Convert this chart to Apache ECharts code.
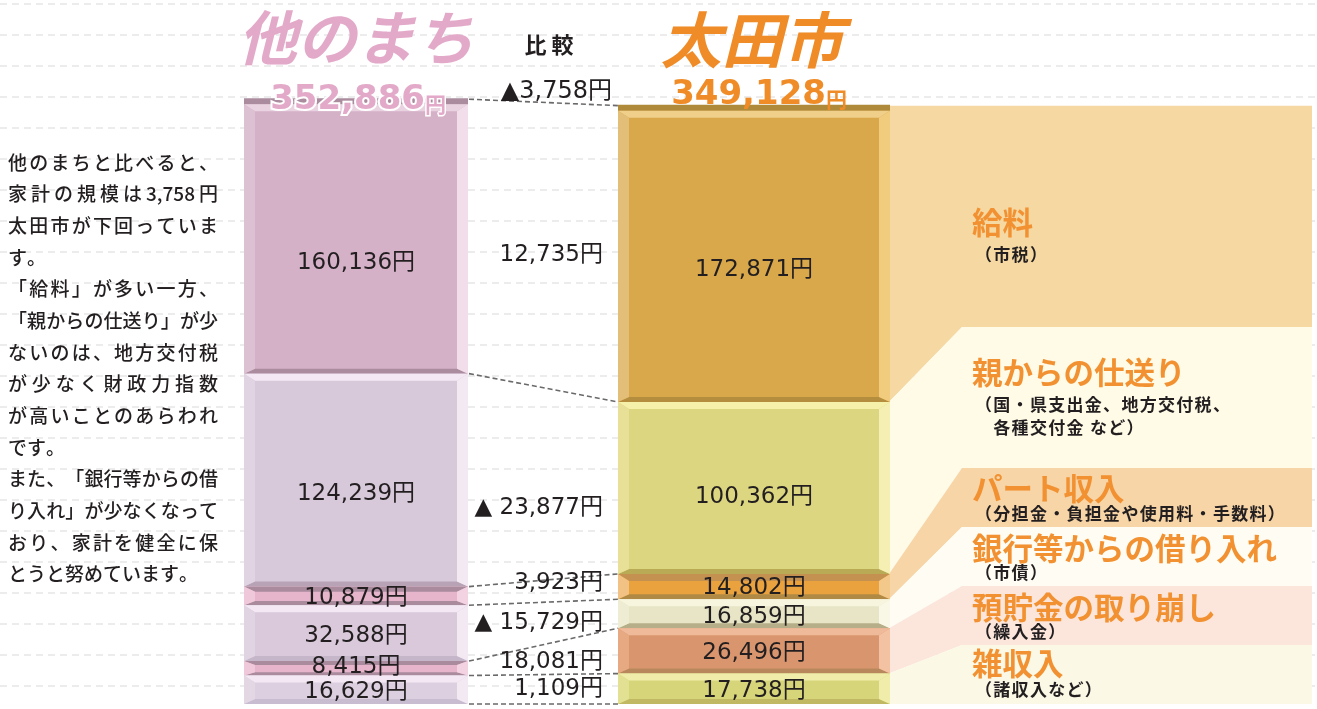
<!DOCTYPE html>
<html><head><meta charset="utf-8">
<script src="https://cdn.jsdelivr.net/npm/echarts@6/dist/echarts.min.js"></script>
<style>html,body{margin:0;padding:0;background:#fff}#c{width:1317px;height:709px}</style>
</head><body><div id="c"></div>
<script>
// ---------------- data ----------------
const categories = ['他のまち', '太田市'];
const itemNames = ['給料', '親からの仕送り', 'パート収入', '銀行等からの借り入れ', '預貯金の取り崩し', '雑収入'];
const itemNotes = [['（市税）'], ['（国・県支出金、地方交付税、', '　各種交付金 など）'], ['（分担金・負担金や使用料・手数料）'], ['（市債）'], ['（繰入金）'], ['（諸収入など）']];
const otherValues = [160136, 124239, 10879, 32588, 8415, 16629];
const otaValues = [172871, 100362, 14802, 16859, 26496, 17738];
const totals = [352886, 349128];
const diffValues = [12735, -23877, 3923, -15729, 18081, 1109];
const totalDiff = -3758;
const headTitle = '比 較';
const paragraph = [
  '他のまちと比べると、', '家計の規模は3,758円', '太田市が下回っていま', 'す。',
  '「給料」が多い一方、', '「親からの仕送り」が少', 'ないのは、地方交付税', 'が少なく財政力指数',
  'が高いことのあらわれ', 'です。', 'また、「銀行等からの借', 'り入れ」が少なくなって',
  'おり、家計を健全に保', 'とうと努めています。'
];
const paragraphEnds = [3, 9, 13];

// ---------------- layout / style ----------------
const BAR_W = [224, 272];
const PAL = [
  [
    {face:'#d5b1c7', top:'#e9d3e1', left:'#dcc1d3', right:'#f1deea', bottom:'#ab8c9e'},
    {face:'#d7c9d9', top:'#f3e8f3', left:'#e1d4e2', right:'#f3e9f3', bottom:'#b7a3b5'},
    {face:'#e6b5cb', top:'#a98b9d', left:'#efc9da', right:'#f3d3e2', bottom:'#a98b9d'},
    {face:'#d9c9db', top:'#f3e8f3', left:'#e1d4e2', right:'#f3e9f3', bottom:'#c6b6c9'},
    {face:'#e6b5cb', top:'#a98b9d', left:'#efc9da', right:'#f3d3e2', bottom:'#a98b9d'},
    {face:'#dcd0e0', top:'#f3e8f3', left:'#e3d7e4', right:'#f3e9f3', bottom:'#c8bdd0'}
  ],
  [
    {face:'#d9a84a', top:'#efcf8a', left:'#e2be79', right:'#f1cb7e', bottom:'#b48d3e'},
    {face:'#ddd681', top:'#f5f0aa', left:'#e8e096', right:'#f5efb3', bottom:'#b9aa55'},
    {face:'#e9a23e', top:'#c49150', left:'#f1c283', right:'#f2c98a', bottom:'#b08a44'},
    {face:'#e7e5c6', top:'#f7f5de', left:'#eeecd2', right:'#f9f7e6', bottom:'#b6ae88'},
    {face:'#d9966e', top:'#efba9a', left:'#e6a981', right:'#f2c2a3', bottom:'#b9875c'},
    {face:'#d7d57a', top:'#efeda9', left:'#e2e092', right:'#efeda9', bottom:'#c0b862'}
  ]
];
const STRIP = ['#ab8c9e', '#ae8a3a'];
const BAND_COL = ['#f6d8a2', '#fffbe7', '#f7d5a6', '#fffdf3', '#fce6dc', '#fbf8e5'];
const BAND_Y = [[115,327],[327,468],[468,527],[527,586],[586,645],[645,704]];
const BAND_X0 = 962, BAND_X1 = 1312;
const LABEL_DY = [[27,14,2,3,-1,2],[16,9,1,3,2,2]];
const DIFF_DY = [10,24,-8,0,2,0];
const NAME_Y = [222, 372, 488, 548, 607, 663];
const NOTE_Y = [[255],[405,428],[514],[573],[632],[690]];
const NUM_FONT = '"DejaVu Sans","Noto Sans CJK JP",sans-serif';
const JP_FONT = '"Noto Sans CJK JP",sans-serif';
const INK = '#231f20';
const PINK = '#e3a9c9';
const ORANGE = '#f08c28';

const fmt = v => Math.abs(v).toLocaleString('en-US');
const valuesBy = [otherValues, otaValues];
function lower(vals, k) { let s = 0; for (let i = k + 1; i < vals.length; i++) s += vals[i]; return s; }

// ---------------- series data ----------------
const segData = [];
valuesBy.forEach((vals, c) => vals.forEach((v, k) => {
  const s = lower(vals, k); segData.push([c, s, s + v, k]);
}));
const linkData = [];
for (let k = 0; k <= otherValues.length; k++) {
  const vl = k === 0 ? totals[0] : lower(otherValues, k - 1);
  const vr = k === 0 ? totals[1] : lower(otaValues, k - 1);
  linkData.push([0, vl, vr, k]);
}
const bandData = otaValues.map((v, k) => { const s = lower(otaValues, k); return [1, s, s + v, k]; });
const diffData = diffValues.map((d, k) => [0, lower(otherValues, k), lower(otaValues, k), k]);

function bevelItem(params, api) {
  const c = api.value(0), s = api.value(1), e = api.value(2), k = api.value(3);
  const pb = api.coord([c, s]), pt = api.coord([c, e]);
  const w = BAR_W[c], x0 = pb[0] - w / 2, x1 = pb[0] + w / 2;
  const yb = pb[1]; let yt = pt[1];
  const P = PAL[c][k];
  const ch = [{type:'rect', shape:{x:x0, y:yt, width:w, height:yb - yt}, style:{fill:P.face}}];
  if (k === 0) { ch.push({type:'rect', shape:{x:x0, y:yt - 1, width:w, height:6}, style:{fill:STRIP[c]}}); yt += 5; }
  const h = yb - yt;
  const bx = 11, bt = Math.min(7, h * 0.28), bb = Math.min(5, h * 0.22);
  ch.push(
    {type:'polygon', shape:{points:[[x0,yt],[x1,yt],[x1-bx,yt+bt],[x0+bx,yt+bt]]}, style:{fill:P.top}},
    {type:'polygon', shape:{points:[[x0,yb],[x1,yb],[x1-bx,yb-bb],[x0+bx,yb-bb]]}, style:{fill:P.bottom}},
    {type:'polygon', shape:{points:[[x0,yt],[x0+bx,yt+bt],[x0+bx,yb-bb],[x0,yb]]}, style:{fill:P.left}},
    {type:'polygon', shape:{points:[[x1,yt],[x1-bx,yt+bt],[x1-bx,yb-bb],[x1,yb]]}, style:{fill:P.right}}
  );
  return {type:'group', children:ch};
}
function segLabelItem(params, api) {
  const c = api.value(0), s = api.value(1), e = api.value(2), k = api.value(3);
  const pb = api.coord([c, s]), pt = api.coord([c, e]);
  return {type:'text', z2:100, style:{x:pb[0], y:(pb[1] + pt[1]) / 2 + LABEL_DY[c][k], text:fmt(valuesBy[c][k]) + '円',
    align:'center', verticalAlign:'middle', fill:INK, fontSize:23, fontFamily:NUM_FONT}};
}
function linkItem(params, api) {
  const vl = api.value(1), vr = api.value(2);
  const a = api.coord([0, vl]), b = api.coord([1, vr]);
  return {type:'line', shape:{x1:a[0] + BAR_W[0] / 2 + 1, y1:a[1], x2:b[0] - BAR_W[1] / 2, y2:b[1]},
    style:{stroke:'#6a6a6a', lineWidth:1.6, lineDash:[5, 3]}};
}
function bandItem(params, api) {
  const s = api.value(1), e = api.value(2), k = api.value(3);
  const pb = api.coord([1, s]), pt = api.coord([1, e]);
  const xr = pb[0] + BAR_W[1] / 2 - 1;
  const topY = k === 0 ? pt[1] : BAND_Y[k][0];
  return {type:'polygon', shape:{points:[[xr, pt[1]],[BAND_X0, topY],[BAND_X1, topY],[BAND_X1, BAND_Y[k][1]],[BAND_X0, BAND_Y[k][1]],[xr, pb[1]]]},
    style:{fill:BAND_COL[k]}};
}
function diffItem(params, api) {
  const k = api.value(3);
  const yl = (api.coord([0, lower(otherValues, k)])[1] + api.coord([0, lower(otherValues, k) + otherValues[k]])[1]) / 2;
  const yr = (api.coord([1, lower(otaValues, k)])[1] + api.coord([1, lower(otaValues, k) + otaValues[k]])[1]) / 2;
  const d = diffValues[k];
  return {type:'text', z2:100, style:{x:603, y:(yl + yr) / 2 + DIFF_DY[k], text:(d < 0 ? '▲ ' : '') + fmt(d) + '円',
    align:'right', verticalAlign:'middle', fill:INK, fontSize:23, fontFamily:NUM_FONT}};
}

// ---------------- graphic (decorations & text) ----------------
const graphics = [];
for (let y = 4; y <= 690; y += 31) {
  graphics.push({type:'line', z:0, shape:{x1:0, y1:y, x2:1317, y2:y}, style:{stroke:'#d9d9d9', lineWidth:1, lineDash:[7, 5]}});
}
const txt = (x, y, text, o) => ({type:'text', z:100, x:x, y:y, style:Object.assign({text:text, fill:INK, fontFamily:JP_FONT,
  align:'left', verticalAlign:'middle', textAlign:'left', textVerticalAlign:'middle'}, o || {})});
function A(o) { if (o.align) o.textAlign = o.align; if (o.verticalAlign) o.textVerticalAlign = o.verticalAlign; return o; }

const mctx = document.createElement('canvas').getContext('2d');
// place a line token by token with extra spacing
function spaced(line, x0, y, fs, weight, spacing, targetW) {
  mctx.font = (weight || 'normal') + ' ' + fs + 'px "Noto Sans CJK JP"';
  const toks = line.match(/[0-9,]+|./gu);
  const widths = toks.map(t => mctx.measureText(t).width);
  const total = widths.reduce((a, b) => a + b, 0);
  const gap = targetW ? (targetW - total) / Math.max(1, toks.length - 1) : spacing;
  let x = x0;
  toks.forEach((t, j) => {
    graphics.push(txt(x, y, t, A({fontSize:fs, fontWeight:weight || 'normal', align:'left'})));
    x += widths[j] + gap;
  });
}

graphics.push(txt(356, 38, categories[0], A({fontSize:59, fontWeight:'bold', fontStyle:'italic', fill:PINK, align:'center'})));
graphics.push(txt(752, 40, categories[1], A({fontSize:61, fontWeight:'bold', fontStyle:'italic', fill:ORANGE, align:'center'})));
graphics.push(txt(549, 45, headTitle, A({fontSize:22, fontWeight:'bold', align:'center'})));
graphics.push(txt(425, 100, fmt(totals[0]), A({fontSize:34, fontWeight:'bold', fontFamily:NUM_FONT, fill:PINK, stroke:'#fff', lineWidth:4, strokeFirst:true, align:'right'})));
graphics.push(txt(425, 104, '円', A({fontSize:21, fontWeight:'bold', fill:PINK, stroke:'#fff', lineWidth:3, strokeFirst:true, align:'left'})));
graphics.push(txt(826, 95, fmt(totals[1]), A({fontSize:34, fontWeight:'bold', fontFamily:NUM_FONT, fill:ORANGE, align:'right'})));
graphics.push(txt(826, 99, '円', A({fontSize:21, fontWeight:'bold', fill:ORANGE, align:'left'})));
graphics.push(txt(612, 92, (totalDiff < 0 ? '▲' : '') + fmt(totalDiff) + '円', A({fontSize:24, fontFamily:NUM_FONT, align:'right'})));

itemNames.forEach((n, k) => {
  graphics.push(txt(972, NAME_Y[k], n, A({fontSize:30.5, fontWeight:'bold', fill:'#f29131'})));
  itemNotes[k].forEach((t, j) => spaced(t, 975, NOTE_Y[k][j], 17, 'bold', 1.3, 0));
});

// justified paragraph
paragraph.forEach((line, i) => {
  const y = 162.5 + i * 31.65;
  if (paragraphEnds.indexOf(i) >= 0) spaced(line, 8, y, 19, '500', 0, 0);
  else spaced(line, 8, y, 19, '500', 0, 210);
});

// ---------------- chart ----------------
const chart = echarts.init(document.getElementById('c'), null, {renderer:'canvas'});
chart.setOption({
  animation:false,
  backgroundColor:'#ffffff',
  grid:{left:157, right:364, top:87, bottom:5},
  xAxis:{type:'category', data:categories, show:false},
  yAxis:{type:'value', min:0, max:360000, show:false},
  graphic:{elements:graphics},
  series:[
    {type:'custom', name:'bands', z:1, renderItem:bandItem, encode:{x:0, y:[1, 2]}, data:bandData, silent:true},
    {type:'custom', name:'bars', z:3, renderItem:bevelItem, encode:{x:0, y:[1, 2]}, data:segData, silent:true},
    {type:'custom', name:'links', z:4, renderItem:linkItem, encode:{x:0, y:[1, 2]}, data:linkData, silent:true},
    {type:'custom', name:'labels', z:5, renderItem:segLabelItem, encode:{x:0, y:[1, 2]}, data:segData, silent:true},
    {type:'custom', name:'diffs', z:5, renderItem:diffItem, encode:{x:0, y:[1, 2]}, data:diffData, silent:true}
  ]
});
</script></body></html>
